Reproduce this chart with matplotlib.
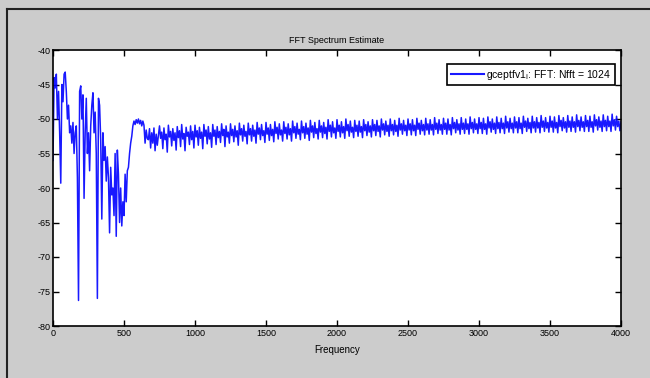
import numpy as np
import matplotlib.pyplot as plt
from matplotlib.lines import Line2D

plt.rcParams['font.family'] = ['Liberation Sans', 'DejaVu Sans']
plt.rcParams['axes.unicode_minus'] = False

# spectrum below ~740 Hz, read at 7.8125 Hz steps (dB)
low_db = [-56, -44, -45.5, -43.5, -50, -46, -52, -59.3, -45, -47.5,
          -43.5, -43.2, -46, -50, -48, -52, -51, -53.5, -50.5, -55,
          -52, -51, -58.5, -76.3, -46, -45.2, -50, -46.5, -61.5, -52,
          -47, -55, -52, -57.5, -51, -48, -46.2, -52, -49, -55,
          -76, -47, -48, -53, -64.5, -52, -56, -54, -59, -55.5,
          -58.5, -66.5, -57, -61, -60, -64, -55, -67, -54.5, -58,
          -65, -60, -65.5, -62, -64, -58, -62, -57.5, -57, -55,
          -53.5, -52.5, -51, -50.3, -50.8, -50.1, -50.6, -50, -50.7, -50.2,
          -51, -50.3, -50.9, -53.5, -51.6, -52.8, -53, -51.4, -54.2, -52,
          -53.5, -51.3, -54.6, -52.2, -53.8]

# spectrum from 750 Hz to 4000 Hz, read at 7.8125 Hz steps (dB)
high_db = [
    -51.0, -52.8, -51.9, -54.3, -51.3, -53.0, -52.2, -54.8, -50.9, -52.6, -51.8, -53.9, -51.4, -53.1, -52.0, -54.5,
    -51.1, -52.7, -51.7, -54.0, -50.8, -52.9, -52.1, -54.6, -51.2, -52.5, -51.9, -53.7, -51.0, -53.0, -51.8, -54.2,
    -50.9, -52.6, -51.7, -53.8, -51.2, -52.8, -51.9, -54.3, -50.8, -52.5, -51.6, -53.6, -51.1, -52.9, -52.0, -54.1,
    -50.8, -52.5, -51.6, -53.7, -51.1, -52.7, -51.8, -53.4, -50.7, -52.4, -51.5, -54.0, -51.0, -52.6, -51.9, -53.5,
    -50.7, -52.4, -51.5, -53.3, -51.0, -52.6, -51.7, -53.8, -50.6, -52.3, -51.4, -53.2, -50.9, -52.5, -51.8, -53.6,
    -50.6, -52.3, -51.4, -53.2, -50.9, -52.5, -51.6, -53.5, -50.5, -52.2, -51.3, -53.0, -50.8, -52.4, -51.7, -53.4,
    -50.5, -52.2, -51.3, -53.1, -50.8, -52.4, -51.5, -53.3, -50.4, -52.1, -51.2, -52.9, -50.7, -52.3, -51.6, -53.2,
    -50.4, -52.1, -51.2, -52.9, -50.7, -52.3, -51.4, -53.2, -50.3, -52.0, -51.1, -52.8, -50.6, -52.2, -51.5, -53.0,
    -50.3, -52.0, -51.1, -52.8, -50.6, -52.2, -51.3, -53.1, -50.2, -51.9, -51.0, -52.7, -50.5, -52.1, -51.4, -52.9,
    -50.2, -51.9, -51.0, -52.7, -50.5, -52.1, -51.2, -52.9, -50.1, -51.8, -50.9, -52.6, -50.4, -52.0, -51.3, -52.8,
    -50.1, -51.8, -50.9, -52.6, -50.4, -52.0, -51.1, -52.8, -50.0, -51.7, -50.8, -52.5, -50.3, -51.9, -51.2, -52.7,
    -50.2, -51.8, -50.9, -52.5, -50.3, -51.9, -51.1, -52.7, -50.1, -51.7, -50.8, -52.4, -50.4, -51.9, -51.0, -52.6,
    -50.1, -51.7, -50.8, -52.4, -50.2, -51.8, -51.0, -52.6, -50.0, -51.6, -50.7, -52.3, -50.3, -51.8, -50.9, -52.5,
    -50.0, -51.7, -50.8, -52.3, -50.2, -51.8, -50.9, -52.5, -49.9, -51.6, -50.7, -52.2, -50.2, -51.7, -50.9, -52.4,
    -50.0, -51.6, -50.7, -52.3, -50.1, -51.7, -50.9, -52.4, -49.9, -51.5, -50.6, -52.2, -50.2, -51.7, -50.8, -52.3,
    -49.9, -51.6, -50.7, -52.2, -50.1, -51.6, -50.8, -52.3, -49.8, -51.5, -50.6, -52.1, -50.1, -51.6, -50.8, -52.2,
    -49.9, -51.5, -50.6, -52.2, -50.0, -51.6, -50.8, -52.3, -49.8, -51.4, -50.5, -52.0, -50.1, -51.6, -50.7, -52.2,
    -49.8, -51.5, -50.6, -52.1, -50.0, -51.5, -50.7, -52.2, -49.7, -51.4, -50.5, -52.0, -50.0, -51.5, -50.7, -52.1,
    -49.8, -51.4, -50.5, -52.1, -49.9, -51.5, -50.7, -52.2, -49.7, -51.3, -50.4, -51.9, -50.0, -51.5, -50.6, -52.1,
    -49.7, -51.4, -50.5, -52.0, -49.9, -51.4, -50.6, -52.1, -49.6, -51.3, -50.4, -51.9, -49.9, -51.4, -50.6, -52.0,
    -49.7, -51.3, -50.4, -52.0, -49.8, -51.4, -50.6, -52.1, -49.6, -51.2, -50.3, -51.8, -49.9, -51.4, -50.5, -52.0,
    -49.6, -51.3, -50.4, -51.9, -49.8, -51.3, -50.5, -52.0, -49.5, -51.2, -50.3, -51.8, -49.8, -51.3, -50.5, -51.9,
    -49.6, -51.2, -50.3, -51.9, -49.7, -51.3, -50.5, -52.0, -49.5, -51.1, -50.2, -51.7, -49.8, -51.3, -50.4, -51.9,
    -49.5, -51.2, -50.3, -51.8, -49.7, -51.2, -50.4, -51.9, -49.4, -51.1, -50.2, -51.7, -49.7, -51.2, -50.4, -51.8,
    -49.5, -51.1, -50.2, -51.8, -49.6, -51.2, -50.4, -51.9, -49.4, -51.0, -50.1, -51.6, -49.7, -51.2, -50.3, -51.8,
    -49.4, -51.1, -50.2, -51.7, -49.6, -51.1, -50.3, -51.8, -49.3, -51.0, -50.1, -51.6, -49.6, -51.1, -50.3, -51.7,
    -50.4]

freq = np.concatenate([np.arange(len(low_db)) * 7.8125,
                       750 + np.arange(len(high_db)) * 7.8125])
power = np.array(low_db + high_db)

x_ticks = [0, 500, 1000, 1500, 2000, 2500, 3000, 3500, 4000]
y_ticks = [-40, -45, -50, -55, -60, -65, -70, -75, -80]

fig = plt.figure(figsize=(6.5, 3.78), dpi=100, facecolor='#cccccc')
# outer window frame
fig.add_artist(Line2D([7/650, 1], [1 - 9/378, 1 - 9/378], color='#222222', lw=1.5))
fig.add_artist(Line2D([7/650, 7/650], [0, 1 - 9/378], color='#222222', lw=1.5))

ax = fig.add_axes([53/650, 52/378, 568/650, 276/378])
ax.plot(freq, power, color='#0000ff', lw=1.1, alpha=0.9,
        label=r'gceptfv1$_{\mathrm{i}}$: FFT: Nfft = 1024')
ax.set_xlim(0, 4000)
ax.set_ylim(-80, -40)
ax.set_xticks(x_ticks)
ax.set_yticks(y_ticks)
ax.tick_params(direction='in', top=True, right=True, length=4, width=1,
               labelsize=6.5, pad=2)
for s in ax.spines.values():
    s.set_linewidth(1.2)
ax.set_title('FFT Spectrum Estimate', fontsize=6.5, pad=5)
ax.set_xlabel('Frequency', fontsize=7, labelpad=5)

leg = ax.legend(loc='upper right', fontsize=7.5, fancybox=False,
                edgecolor='black', framealpha=1, borderpad=0.35,
                borderaxespad=0, handlelength=3.2, handletextpad=0.2,
                bbox_to_anchor=(0.989, 0.949))
leg.get_frame().set_linewidth(1.2)
leg.get_lines()[0].set_linewidth(1.5)

fig.savefig('out.png', dpi=100, facecolor=fig.get_facecolor())
